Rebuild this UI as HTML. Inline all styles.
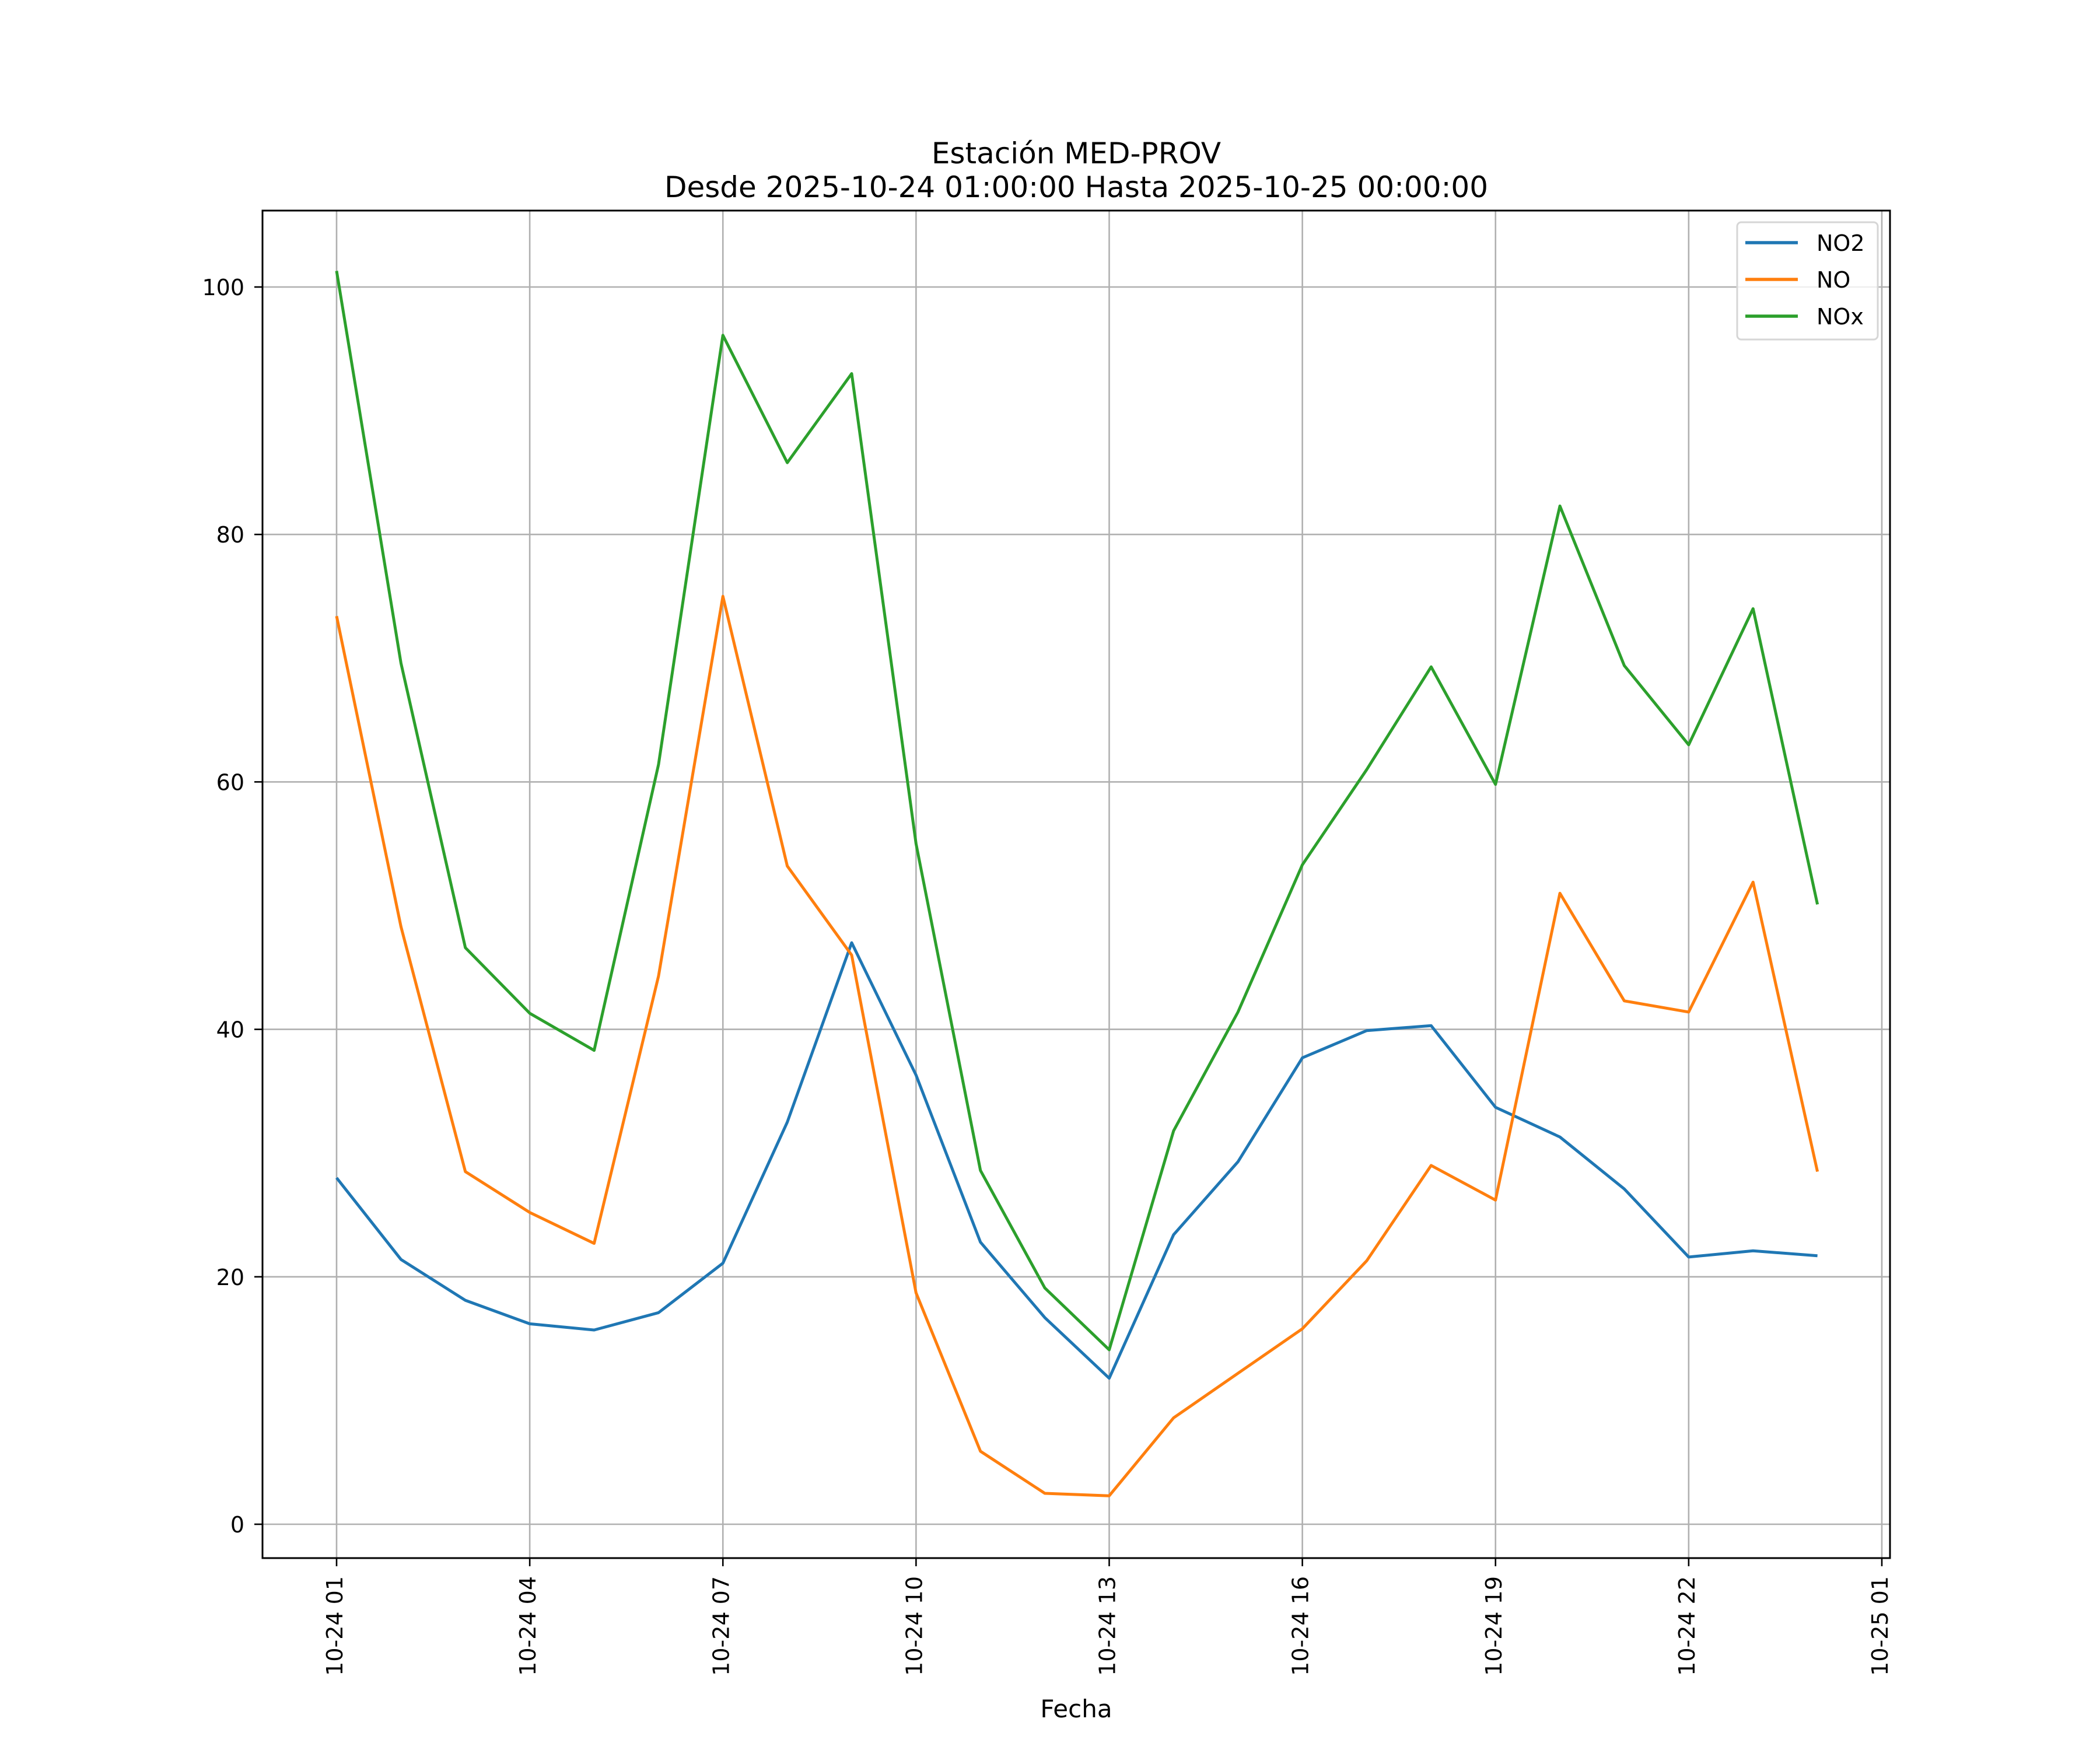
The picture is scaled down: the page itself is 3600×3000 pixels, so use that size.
<!DOCTYPE html>
<html><head><meta charset="utf-8"><style>
html,body{margin:0;padding:0;background:#fff;}
svg{display:block;font-family:"DejaVu Sans","Liberation Sans",sans-serif;}
</style></head><body>
<svg id="chart" width="3600" height="3000" viewBox="0 0 3600 3000" xmlns="http://www.w3.org/2000/svg">
<rect width="3600" height="3000" fill="#fff"/>
<text x="1845" y="280" font-size="50" text-anchor="middle">Estación MED-PROV</text>
<text x="1845" y="338" font-size="50" text-anchor="middle">Desde 2025-10-24 01:00:00 Hasta 2025-10-25 00:00:00</text>
<g id="grid"></g>
<g id="series"></g>
<rect x="450" y="361" width="2790" height="2310" fill="none" stroke="#000" stroke-width="3"/>
<g id="axes"></g>
<text x="1845" y="2944" font-size="42" text-anchor="middle">Fecha</text>
<g>
<rect x="2978" y="381" width="241" height="201" rx="7" fill="#fff" fill-opacity="0.8" stroke="#d6d6d6" stroke-width="3"/>
</g>
<g id="legend"></g>
</svg>
<script>
const hours = [1,2,3,4,5,6,7,8,9,10,11,12,13,14,15,16,17,18,19,20,21,22,23,24];
const no2 = [28,21.4,18.1,16.2,15.7,17.1,21.1,32.5,47,36.3,22.8,16.7,11.8,23.4,29.3,37.7,39.9,40.3,33.7,31.3,27.1,21.6,22.1,21.7];
const no = [73.4,48.3,28.5,25.2,22.7,44.3,75,53.2,46,18.7,5.9,2.5,2.3,8.6,12.2,15.8,21.3,29,26.2,51,42.3,41.4,51.9,28.5];
const nox = [101.3,69.6,46.6,41.3,38.3,61.4,96.1,85.8,93,55,28.6,19.1,14.1,31.8,41.4,53.3,61,69.3,59.8,82.3,69.4,63,74,50.1];
const yTicks = [0,20,40,60,80,100];
const xTickHours = [1,4,7,10,13,16,19,22,25];
const xTickLabels = ["10-24 01","10-24 04","10-24 07","10-24 10","10-24 13","10-24 16","10-24 19","10-24 22","10-25 01"];
const seriesNames = ["NO2","NO","NOx"];
const seriesColors = ["#1f77b4","#ff7f0e","#2ca02c"];

const NS="http://www.w3.org/2000/svg";
const x = h => 577 + (h-1)*(3226-577)/24;
const y = v => 2613 - v*(2613-492)/100;
function mk(tag, attrs, parent){const e=document.createElementNS(NS,tag);for(const k in attrs)e.setAttribute(k,attrs[k]);parent.appendChild(e);return e;}
const grid=document.getElementById('grid'), axes=document.getElementById('axes'), ser=document.getElementById('series'), leg=document.getElementById('legend');

yTicks.forEach(v=>{
  const g=mk('line',{x1:450,x2:3240,y1:y(v),y2:y(v),stroke:'#b0b0b0','stroke-width':2.6},grid);
  
  
  const t=mk('line',{x1:436,x2:450,y1:y(v),y2:y(v),stroke:'#000','stroke-width':2.6},axes);
  
  
  const l=mk('text',{x:419,y:y(v)+14,'font-size':38,'text-anchor':'end'},axes);
  l.textContent=v;
  
  
});
xTickHours.forEach((h,i)=>{
  const g=mk('line',{x1:x(h),x2:x(h),y1:361,y2:2671,stroke:'#b0b0b0','stroke-width':2.6},grid);
  
  
  const t=mk('line',{x1:x(h),x2:x(h),y1:2671,y2:2685,stroke:'#000','stroke-width':2.6},axes);
  
  
  const l=mk('text',{x:0,y:0,'font-size':38,'text-anchor':'end',transform:`translate(${x(h)+10},2702) rotate(-90)`},axes);
  l.textContent=xTickLabels[i];
  
  
});
[no2,no,nox].forEach((arr,i)=>{
  const p=mk('polyline',{points:arr.map((v,j)=>x(hours[j])+','+y(v)).join(' '),fill:'none',stroke:seriesColors[i],'stroke-width':5,'stroke-linejoin':'round'},ser);
  
  
  const ly=416+i*63;
  const ll=mk('line',{x1:2992,x2:3082,y1:ly,y2:ly,stroke:seriesColors[i],'stroke-width':5.5},leg);
  
  
  const lt=mk('text',{x:3114,y:ly+14,'font-size':38},leg);
  lt.textContent=seriesNames[i];
  
  
});
</script>
</body></html>
